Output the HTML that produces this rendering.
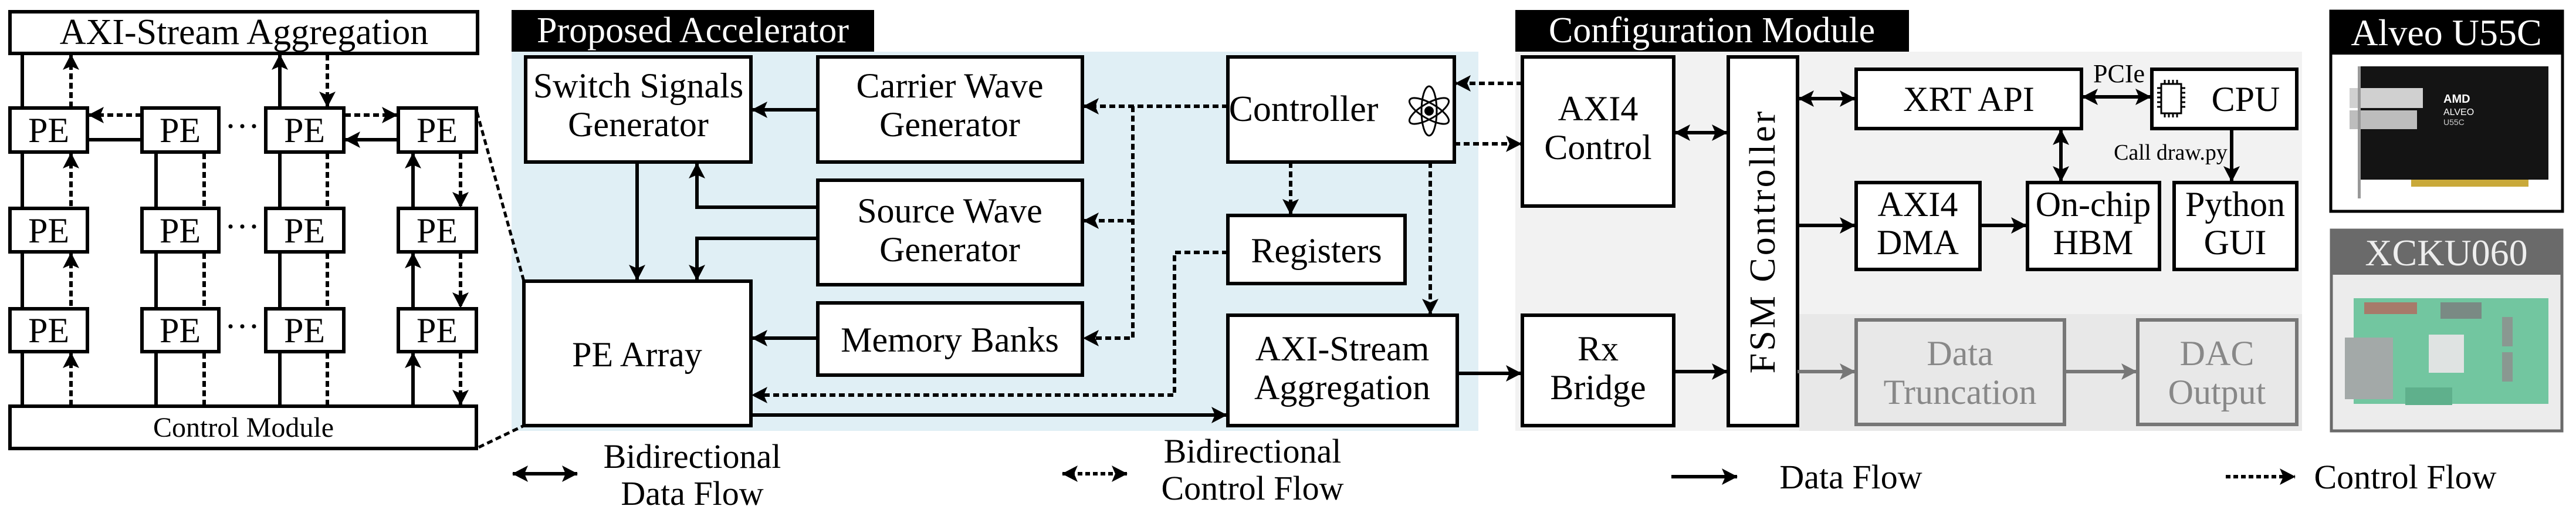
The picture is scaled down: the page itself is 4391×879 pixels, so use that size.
<!DOCTYPE html>
<html><head><meta charset="utf-8"><style>
html,body{margin:0;padding:0;background:#fff;width:4391px;height:879px;overflow:hidden}
svg{display:block}
text{font-family:"Liberation Serif",serif;fill:#000}
</style></head><body>
<svg width="4391" height="879" viewBox="0 0 4391 879" xmlns="http://www.w3.org/2000/svg" font-family="Liberation Serif, serif">
<defs>
<marker id="a" markerUnits="userSpaceOnUse" markerWidth="30" markerHeight="30" refX="26" refY="14" orient="auto-start-reverse"><path d="M0,0 L27,14 L0,28 L6,14 Z" fill="#000"/></marker>
<marker id="g" markerUnits="userSpaceOnUse" markerWidth="30" markerHeight="30" refX="26" refY="14" orient="auto-start-reverse"><path d="M0,0 L27,14 L0,28 L6,14 Z" fill="#777"/></marker>
</defs>
<g stroke="#000" stroke-width="6" fill="none">
<rect x="872" y="88" width="1648" height="646" fill="#e0eff5" stroke="none"/>
<rect x="2583" y="88" width="1341" height="646" fill="#f2f2f2" stroke="none"/>
<rect x="3067" y="535" width="857" height="199" fill="#e8e8e8" stroke="none"/>
<rect x="872" y="17" width="618" height="71" fill="#000" stroke="none"/>
<rect x="2583" y="17" width="671" height="71" fill="#000" stroke="none"/>

<rect x="17" y="20" width="797" height="71" fill="#fff"/>
<rect x="17" y="692" width="795" height="72" fill="#fff"/>
<g fill="#fff">
<rect x="17" y="184" width="132" height="75"/><rect x="242" y="184" width="131" height="75"/><rect x="453" y="184" width="133" height="75"/><rect x="679" y="184" width="133" height="75"/>
<rect x="17" y="355" width="132" height="74"/><rect x="242" y="355" width="131" height="74"/><rect x="453" y="355" width="133" height="74"/><rect x="679" y="355" width="133" height="74"/>
<rect x="17" y="526" width="132" height="73"/><rect x="242" y="526" width="131" height="73"/><rect x="453" y="526" width="133" height="73"/><rect x="679" y="526" width="133" height="73"/>
</g>
<g marker-end="url(#a)">
<path d="M38 692V601M266 692V601M477 692V601M704 692V601"/>
<path d="M38 526V431M266 526V431M477 526V431M704 526V431"/>
<path d="M38 355V261M266 355V261M477 355V261M704 355V261"/>
<path d="M38 184V93M477 184V93"/>
<path d="M242 238H151M679 238H588"/>
</g>
<g stroke-dasharray="10 6" marker-start="url(#a)" marker-end="url(#a)">
<path d="M121 601V690M348 601V690M558 601V690M785 601V690"/>
<path d="M121 431V524M348 431V524M558 431V524M785 431V524"/>
<path d="M121 261V353M348 261V353M558 261V353M785 261V353"/>
<path d="M121 93V182M558 93V182"/>
<path d="M151 196H240M588 196H677"/>
</g>
<path d="M813 191L893 479M816 762L893 725" stroke-dasharray="10 6" stroke-width="5"/>

<g fill="#fff">
<rect x="896" y="97" width="384" height="179"/>
<rect x="1394" y="97" width="451" height="179"/>
<rect x="2093" y="97" width="386" height="179"/>
<rect x="1394" y="307" width="451" height="178"/>
<rect x="2093" y="367" width="302" height="116"/>
<rect x="893" y="479" width="387" height="246"/>
<rect x="1394" y="516" width="451" height="123"/>
<rect x="2093" y="537" width="391" height="188"/>
</g>
<g marker-end="url(#a)">
<path d="M1394 187H1282"/>
<path d="M1394 353H1188V278"/>
<path d="M1394 406H1188V477"/>
<path d="M1086 276V477"/>
<path d="M1394 576H1282"/>
<path d="M1280 707H2091"/>
<path d="M2484 636H2593"/>
</g>
<g stroke-dasharray="10 6" marker-end="url(#a)">
<path d="M2093 181H1847"/>
<path d="M1931 181V576H1847"/>
<path d="M1931 376H1847"/>
<path d="M2093 430H2002V673H1282"/>
<path d="M2200 276V365"/>
<path d="M2438 276V535"/>
<path d="M2595 142H2481"/>
<path d="M2479 245H2593"/>
</g>
<g stroke-width="3">
<ellipse cx="2436" cy="189" rx="38" ry="13" transform="rotate(30 2436 189)"/>
<ellipse cx="2436" cy="189" rx="38" ry="13" transform="rotate(-30 2436 189)"/>
<ellipse cx="2436" cy="189" rx="13" ry="42"/>
</g>
<circle cx="2436" cy="189" r="8" fill="#000" stroke="none"/>

<g fill="#fff">
<rect x="2595" y="97" width="258" height="254"/>
<rect x="2946" y="97" width="118" height="628"/>
<rect x="3164" y="118" width="384" height="101"/>
<rect x="3668" y="118" width="247" height="101"/>
<rect x="3164" y="311" width="211" height="148"/>
<rect x="3456" y="311" width="225" height="148"/>
<rect x="3706" y="311" width="209" height="148"/>
<rect x="2595" y="537" width="258" height="188"/>
</g>
<g fill="#e8e8e8" stroke="#777">
<rect x="3164" y="545" width="355" height="178"/>
<rect x="3644" y="545" width="271" height="178"/>
</g>
<g marker-start="url(#a)" marker-end="url(#a)">
<path d="M2855 226H2944"/>
<path d="M3066 168H3162"/>
<path d="M3550 165H3666"/>
<path d="M3513 221V309"/>
</g>
<g marker-end="url(#a)">
<path d="M3804 219V309"/>
<path d="M3064 384H3162"/>
<path d="M3375 384H3454"/>
<path d="M2853 633H2944"/>
</g>
<g stroke="#777" marker-end="url(#g)">
<path d="M3064 633H3162"/>
<path d="M3519 633H3642"/>
</g>
<g stroke-width="3">
<rect x="3684" y="143" width="34" height="50"/>
<path d="M3690 143V136M3697 143V136M3704 143V136M3711 143V136M3690 193V200M3697 193V200M3704 193V200M3711 193V200M3684 150H3677M3684 158H3677M3684 166H3677M3684 174H3677M3684 182H3677M3718 150H3725M3718 158H3725M3718 166H3725M3718 174H3725M3718 182H3725"/>
</g>

<rect x="3973" y="19" width="395" height="341" fill="#fff" stroke-width="5"/>
<rect x="3973" y="19" width="395" height="74" fill="#000" stroke="none"/>
<rect x="3974" y="392" width="393" height="342" fill="#ececec" stroke="#6a6a6a" stroke-width="5"/>
<rect x="3974" y="392" width="393" height="76" fill="#6a6a6a" stroke="none"/>
</g>
<rect x="4022" y="113" width="322" height="193" fill="#141414"/>
<rect x="4005" y="150" width="125" height="34" fill="#d0d0d0"/>
<rect x="4005" y="188" width="115" height="32" fill="#bdbdbd"/>
<rect x="4019" y="113" width="5" height="225" fill="#999"/>
<rect x="4110" y="306" width="200" height="12" fill="#c9a93a"/>
<text x="4165" y="175" font-weight="bold" font-size="20" style="fill:#fff;font-family:'Liberation Sans',sans-serif">AMD</text>
<text x="4165" y="196" font-size="16" style="fill:#fff;font-family:'Liberation Sans',sans-serif">ALVEO</text>
<text x="4165" y="213" font-size="14" style="fill:#ccc;font-family:'Liberation Sans',sans-serif">U55C</text>
<rect x="4012" y="508" width="332" height="180" fill="#72c6a0"/>
<rect x="3997" y="575" width="82" height="105" fill="#a3a9a8"/>
<rect x="4140" y="570" width="60" height="65" fill="#dfe3e2"/>
<rect x="4030" y="515" width="90" height="20" fill="#a77a6a"/>
<rect x="4160" y="515" width="70" height="28" fill="#7a8a84"/>
<rect x="4265" y="540" width="18" height="50" fill="#8a9891"/>
<rect x="4265" y="600" width="18" height="50" fill="#8a9891"/>
<rect x="4100" y="660" width="80" height="30" fill="#5fb08c"/>

<g font-size="60" text-anchor="middle">
<text x="416" y="75" font-size="62">AXI-Stream Aggregation</text>
<g font-size="60">
<text x="83" y="242">PE</text><text x="307" y="242">PE</text><text x="519" y="242">PE</text><text x="745" y="242">PE</text>
<text x="83" y="413">PE</text><text x="307" y="413">PE</text><text x="519" y="413">PE</text><text x="745" y="413">PE</text>
<text x="83" y="583">PE</text><text x="307" y="583">PE</text><text x="519" y="583">PE</text><text x="745" y="583">PE</text>
<text x="413" y="235">···</text><text x="413" y="406">···</text><text x="413" y="576">···</text>
</g>
<text x="415" y="744" font-size="48">Control Module</text>

<text x="1181" y="72" font-size="62" style="fill:#fff">Proposed Accelerator</text>
<text x="2918" y="72" font-size="62" style="fill:#fff">Configuration Module</text>
<text x="4170" y="77" font-size="64" style="fill:#fff">Alveo U55C</text>
<text x="4170" y="452" font-size="64" style="fill:#eee">XCKU060</text>

<g font-size="60">
<text x="1088" y="166">Switch Signals</text><text x="1088" y="232">Generator</text>
<text x="1619" y="166">Carrier Wave</text><text x="1619" y="232">Generator</text>
<text x="2222" y="206" font-size="62">Controller</text>
<text x="1619" y="379">Source Wave</text><text x="1619" y="445">Generator</text>
<text x="2244" y="447">Registers</text>
<text x="1086" y="624">PE Array</text>
<text x="1619" y="599">Memory Banks</text>
<text x="2288" y="614">AXI-Stream</text><text x="2288" y="680">Aggregation</text>
<text x="2724" y="205">AXI4</text><text x="2724" y="271">Control</text>
<text x="3356" y="189">XRT API</text>
<text x="3828" y="189">CPU</text>
<text x="3269" y="368">AXI4</text><text x="3269" y="433">DMA</text>
<text x="3568" y="368">On-chip</text><text x="3568" y="433">HBM</text>
<text x="3810" y="368">Python</text><text x="3810" y="433">GUI</text>
<text x="2724" y="614">Rx</text><text x="2724" y="680">Bridge</text>
<text x="3341" y="622" style="fill:#888">Data</text><text x="3341" y="688" style="fill:#888">Truncation</text>
<text x="3779" y="622" style="fill:#888">DAC</text><text x="3779" y="688" style="fill:#888">Output</text>
</g>
<text x="3005" y="411" font-size="62" letter-spacing="4" transform="rotate(-90 3005 411)" dominant-baseline="central">FSM Controller</text>
<text x="3612" y="140" font-size="44">PCIe</text>
<text x="3700" y="272" font-size="38">Call draw.py</text>

<g font-size="58">
<text x="1180" y="797">Bidirectional</text><text x="1180" y="860">Data Flow</text>
<text x="2135" y="788">Bidirectional</text><text x="2135" y="851">Control Flow</text>
<text x="3155" y="832">Data Flow</text>
<text x="4100" y="832">Control Flow</text>
</g>
</g>
<g stroke="#000" stroke-width="6" fill="none">
<path d="M874 807H984" marker-start="url(#a)" marker-end="url(#a)"/>
<path d="M1811 807H1921" stroke-dasharray="8 5" marker-start="url(#a)" marker-end="url(#a)"/>
<path d="M2849 812H2961" marker-end="url(#a)"/>
<path d="M3794 812H3912" stroke-dasharray="8 5" marker-end="url(#a)"/>
</g>
</svg>
</body></html>
